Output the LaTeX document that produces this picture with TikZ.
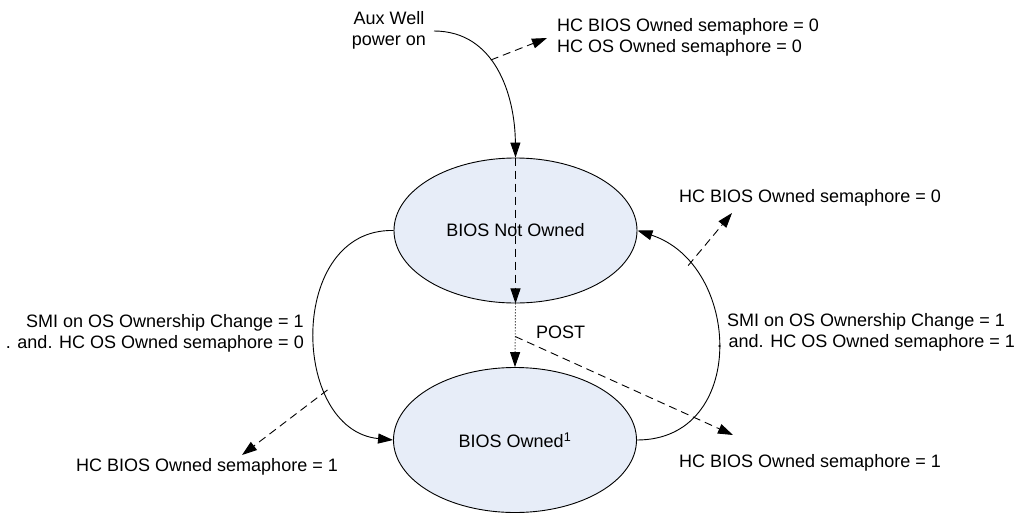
\documentclass[tikz,border=0pt]{standalone}
\usepackage{fontspec}
\setmainfont{Liberation Sans}
\usetikzlibrary{arrows.meta,shapes.geometric}
\definecolor{statefill}{RGB}{231,237,248}
\begin{document}
\begin{tikzpicture}[x=1pt,y=-1pt,
  every node/.style={font=\fontsize{18}{21}\selectfont, inner sep=0pt},
  state/.style={ellipse, draw, line width=0.9pt, fill=statefill, minimum width=243pt, minimum height=145pt},
  conn/.style={line width=0.9pt, -{Triangle[length=15pt,width=10pt]}},
  dashconn/.style={conn, dash pattern=on 8pt off 5pt},
  dotconn/.style={conn, dash pattern=on 1pt off 2pt},
  lbl/.style={align=left}
]
\useasboundingbox (0,0) rectangle (1026,515);

\node[state] (n1) at (515.5,230.5) {BIOS Not Owned};
\node[state] (n2) at (515,440) {BIOS Owned\textsuperscript{1}};

% labels
\node[align=center] (aux) at (389,30.5) {Aux Well\\power on};
\coordinate (auxs) at (434,31);
\node[lbl, anchor=west] (topl) at (557,37.5) {HC BIOS Owned semaphore = 0\\HC OS Owned semaphore = 0};
\node[anchor=west] (rtop) at (679,198) {HC BIOS Owned semaphore = 0};
\node[align=center] (rmid) at (866,332) {SMI on OS Ownership Change = 1\\. and. HC OS Owned semaphore = 1};
\node[align=right, anchor=east] (lmid) at (304,333) {SMI on OS Ownership Change = 1\\. and. HC OS Owned semaphore = 0};
\node[anchor=west] (lbot) at (76,467) {HC BIOS Owned semaphore = 1};
\node[anchor=west] (rbot) at (679,463) {HC BIOS Owned semaphore = 1};

% arrow tip coordinates
\coordinate (t1) at (547,38);
\coordinate (t2) at (732,213);
\coordinate (t3) at (242,455);
\coordinate (t4) at (733,435);

% power on arrow
\draw[conn] (auxs) .. controls (495,31) and (515,95) .. (n1.north) coordinate[pos=0.42] (p1);
\draw[dashconn] (p1) -- (t1);

% inside n1 dashed
\draw[dashconn] (n1.north) -- (n1.south);
% POST dotted
\draw[dotconn] (n1.south) -- (n2.north) coordinate[pos=0.52] (pp);
\node[anchor=west] (post) at (536,332) {POST};
\draw[dashconn] (pp) -- (t4);

% right curve: BIOS Owned -> BIOS Not Owned
\draw[conn] (n2.east) .. controls (748,440) and (742,265) .. (n1.east) coordinate[pos=0.8] (p2);
\draw[dashconn] (p2) -- (t2);

% left curve: BIOS Not Owned -> BIOS Owned
\draw[conn] (n1.west) .. controls (287,228) and (290,430) .. (n2.west) coordinate[pos=0.7] (p3);
\draw[dashconn] (p3) -- (t3);
\end{tikzpicture}
\end{document}
